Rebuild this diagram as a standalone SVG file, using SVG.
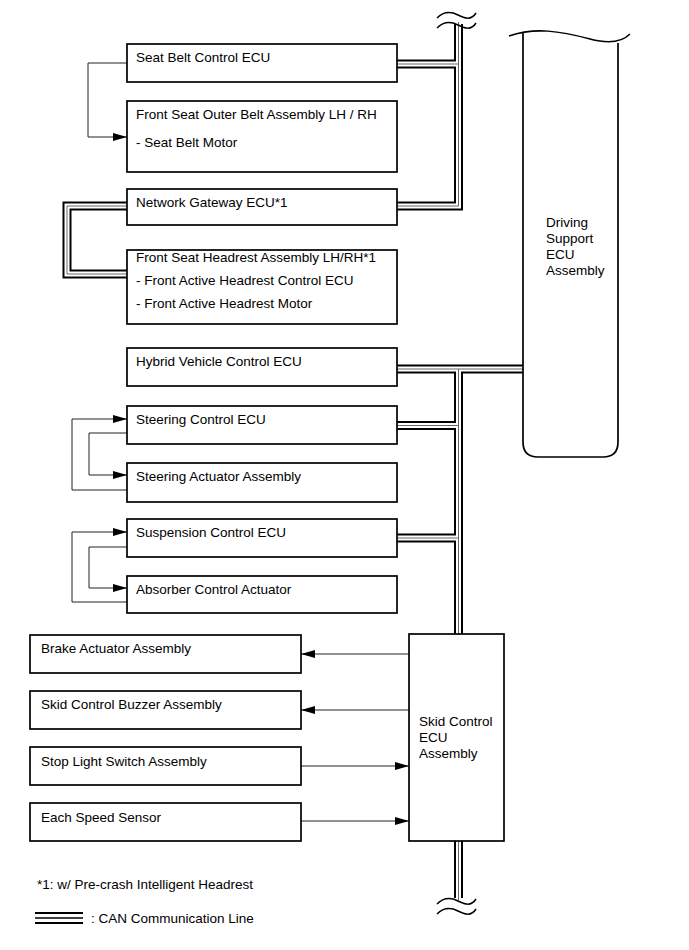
<svg xmlns="http://www.w3.org/2000/svg" width="689" height="950" viewBox="0 0 689 950">
<defs>
<style>
.box{fill:#fff;stroke:#000;stroke-width:1.7}
.t{font-family:"Liberation Sans",Arial,sans-serif;font-size:13.5px;fill:#000}
.can1{fill:none;stroke:#000;stroke-width:9;stroke-linejoin:miter}
.can2{fill:none;stroke:#fff;stroke-width:5;stroke-linejoin:miter}
.can3{fill:none;stroke:#666;stroke-width:1;stroke-linejoin:miter}
.thin{fill:none;stroke:#222;stroke-width:1}
.wave{fill:none;stroke:#000;stroke-width:1.5}
</style>
<marker id="arr" viewBox="0 0 14 8" refX="14" refY="4" markerWidth="14" markerHeight="8" markerUnits="userSpaceOnUse" orient="auto">
<path d="M0,0 L14,4 L0,8 Z" fill="#000"/>
</marker>
</defs>

<g id="connectors">
<g class="can1">
<path d="M397,64 H458.5"/>
<path d="M458.5,24 V206 H397"/>
<path d="M127,206 H67 V274 H127"/>
<path d="M397,369 H523"/>
<path d="M458.5,369 V634"/>
<path d="M397,425.5 H458.5"/>
<path d="M397,538 H458.5"/>
<path d="M458.5,841 V898"/>
</g>
<g class="can2">
<path d="M397,64 H458.5"/>
<path d="M458.5,22 V206 H397"/>
<path d="M127,206 H67 V274 H127"/>
<path d="M397,369 H523"/>
<path d="M458.5,369 V636"/>
<path d="M397,425.5 H458.5"/>
<path d="M397,538 H458.5"/>
<path d="M458.5,839 V900"/>
</g>
<g class="can3">
<path d="M397,64 H458.5"/>
<path d="M458.5,22 V206 H397"/>
<path d="M127,206 H67 V274 H127"/>
<path d="M397,369 H523"/>
<path d="M458.5,369 V636"/>
<path d="M397,425.5 H458.5"/>
<path d="M397,538 H458.5"/>
<path d="M458.5,839 V900"/>
</g>
<path class="wave" d="M437,18 C444,11 452,12 458,15 S471,21 476,13"/>
<path class="wave" d="M437,28 C444,21 452,22 458,25 S471,31 476,23"/>
<path class="wave" d="M437,904 C444,897 452,898 458,901 S471,907 476,899"/>
<path class="wave" d="M437,914 C444,907 452,908 458,911 S471,917 476,909"/>

<path class="thin" d="M127,63 H88 V137 H127" marker-end="url(#arr)"/>
<path class="thin" d="M127,490 H72 V419 H127" marker-end="url(#arr)"/>
<path class="thin" d="M127,433 H89 V475 H127" marker-end="url(#arr)"/>
<path class="thin" d="M127,602 H72 V532 H127" marker-end="url(#arr)"/>
<path class="thin" d="M127,547 H89 V588 H127" marker-end="url(#arr)"/>
<path class="thin" d="M409,654 H301" marker-end="url(#arr)"/>
<path class="thin" d="M409,710 H301" marker-end="url(#arr)"/>
<path class="thin" d="M301,766 H409" marker-end="url(#arr)"/>
<path class="thin" d="M301,821 H409" marker-end="url(#arr)"/>
</g>

<g id="seat-belt-ecu"><rect class="box" x="127" y="44" width="270" height="38"/><text class="t" x="136" y="62">Seat Belt Control ECU</text></g>
<g id="outer-belt"><rect class="box" x="127" y="101" width="270" height="71"/><text class="t" x="136" y="119">Front Seat Outer Belt Assembly LH / RH</text><text class="t" x="136" y="147">- Seat Belt Motor</text></g>
<g id="network-gateway"><rect class="box" x="127" y="189" width="270" height="36"/><text class="t" x="136" y="207">Network Gateway ECU*1</text></g>
<g id="headrest"><rect class="box" x="127" y="250" width="270" height="74"/><text class="t" x="136" y="262">Front Seat Headrest Assembly LH/RH*1</text><text class="t" x="136" y="285">- Front Active Headrest Control ECU</text><text class="t" x="136" y="308">- Front Active Headrest Motor</text></g>
<g id="hybrid"><rect class="box" x="127" y="348" width="270" height="38"/><text class="t" x="136" y="366">Hybrid Vehicle Control ECU</text></g>
<g id="steering-ecu"><rect class="box" x="127" y="406" width="270" height="38"/><text class="t" x="136" y="424">Steering Control ECU</text></g>
<g id="steering-actuator"><rect class="box" x="127" y="463" width="270" height="39"/><text class="t" x="136" y="481">Steering Actuator Assembly</text></g>
<g id="suspension-ecu"><rect class="box" x="127" y="519" width="270" height="38"/><text class="t" x="136" y="537">Suspension Control ECU</text></g>
<g id="absorber"><rect class="box" x="127" y="576" width="270" height="37"/><text class="t" x="136" y="594">Absorber Control Actuator</text></g>

<g id="driving-support">
<path d="M523,33 V442 Q523,457 538,457 H603 Q618,457 618,442 V43" fill="#fff" stroke="#000" stroke-width="1.7"/>
<path class="wave" d="M509,36 C535,27 560,31 590,39 C605,43 620,44 630,34"/>
<text class="t" x="546" y="227">Driving</text><text class="t" x="546" y="243">Support</text><text class="t" x="546" y="259">ECU</text><text class="t" x="546" y="275">Assembly</text>
</g>

<g id="brake"><rect class="box" x="30" y="635" width="271" height="38"/><text class="t" x="41" y="653">Brake Actuator Assembly</text></g>
<g id="buzzer"><rect class="box" x="30" y="691" width="271" height="38"/><text class="t" x="41" y="709">Skid Control Buzzer Assembly</text></g>
<g id="stop-light"><rect class="box" x="30" y="747" width="271" height="38"/><text class="t" x="41" y="766">Stop Light Switch Assembly</text></g>
<g id="speed-sensor"><rect class="box" x="30" y="803" width="271" height="38"/><text class="t" x="41" y="822">Each Speed Sensor</text></g>

<g id="skid-ecu"><rect class="box" x="409" y="634" width="95" height="207"/><text class="t" x="419" y="726">Skid Control</text><text class="t" x="419" y="742">ECU</text><text class="t" x="419" y="758">Assembly</text></g>

<g id="legend">
<text class="t" x="37" y="889">*1: w/ Pre-crash Intelligent Headrest</text>
<line x1="35" y1="913" x2="83" y2="913" stroke="#000" stroke-width="2"/>
<line x1="35" y1="918" x2="83" y2="918" stroke="#000" stroke-width="1.3"/>
<line x1="35" y1="923" x2="83" y2="923" stroke="#000" stroke-width="2"/>
<text class="t" x="91" y="923">: CAN Communication Line</text>
</g>
</svg>
